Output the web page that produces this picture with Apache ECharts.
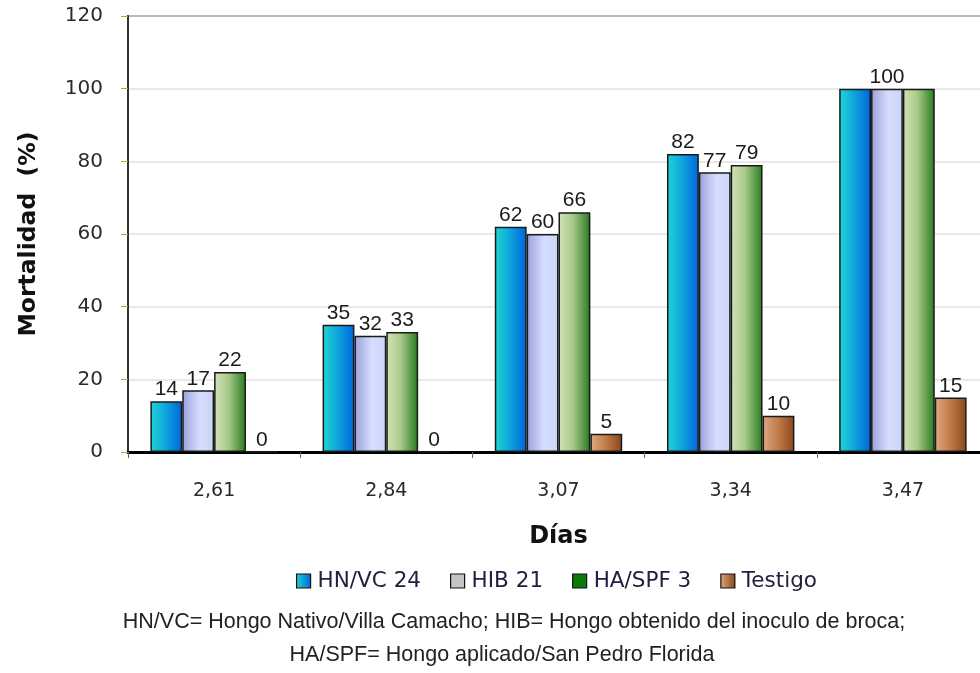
<!DOCTYPE html>
<html>
<head>
<meta charset="utf-8">
<script src="https://cdn.jsdelivr.net/npm/echarts@6/dist/echarts.min.js"></script>
<style>
  html, body { margin: 0; padding: 0; background: #ffffff; }
  #chart { width: 980px; height: 673px; }
</style>
</head>
<body>
<div id="chart"></div>
<script>
// Días de evaluación (categorías del eje X)
const dias = ['2,61', '2,84', '3,07', '3,34', '3,47'];

// Mortalidad (%) por tratamiento
const hnvc24 = [14, 35, 62, 82, 100];
const hib21 = [17, 32, 60, 77, 100];
const haspf3 = [22, 33, 66, 79, 100];
const testigo = [0, 0, 5, 10, 15];

// Índices cuyas etiquetas se omiten (las tres barras de 100 comparten una sola etiqueta)
const sinEtiquetaHN = [4];
const sinEtiquetaHA = [4];

const nombres = ['HN/VC 24', 'HIB 21', 'HA/SPF 3', 'Testigo'];

const yTicks = { min: 0, max: 120, interval: 20 };

const notas = [
  'HN/VC= Hongo Nativo/Villa Camacho; HIB= Hongo obtenido del inoculo de broca;',
  'HA/SPF= Hongo aplicado/San Pedro Florida'
];

function grad(stops) {
  return {
    type: 'linear', x: 0, y: 0, x2: 1, y2: 0,
    colorStops: stops.map(s => ({ offset: s[0], color: s[1] }))
  };
}

const relleno = [
  grad([[0, '#1ed6d2'], [0.45, '#0fa8dc'], [1, '#0064dc']]),
  grad([[0, '#9aa0da'], [0.55, '#d6defd'], [1, '#cbd4f8']]),
  grad([[0, '#d2e4b8'], [0.45, '#a9c98a'], [1, '#267a1e']]),
  grad([[0, '#dfa97f'], [0.5, '#c07a48'], [1, '#8a4519']])
];

const iconos = [
  grad([[0, '#1ed6d2'], [1, '#0064dc']]),
  '#c4c4c4',
  '#0b7a0b',
  grad([[0, '#dfa97f'], [1, '#8a4519']])
];

function datos(valores, ocultos) {
  return valores.map((v, i) =>
    ocultos.includes(i) ? { value: v, label: { show: false } } : v
  );
}

const etiqueta = {
  show: true,
  position: 'top',
  distance: 1,
  color: '#1a1a1a',
  fontFamily: 'Liberation Sans',
  fontSize: 21
};

function serie(idx, data) {
  return {
    name: nombres[idx],
    type: 'bar',
    data: data,
    barGap: '0%',
    barCategoryGap: '26%',
    itemStyle: { color: relleno[idx], borderColor: '#1a1a1a', borderWidth: 1.5 },
    label: etiqueta
  };
}

const chart = echarts.init(document.getElementById('chart'), null, { renderer: 'canvas' });

chart.setOption({
  animation: false,
  backgroundColor: '#ffffff',
  grid: {
    left: 128, top: 16, width: 861, height: 436,
    outerBoundsMode: 'none',
    show: true, borderColor: '#4a4a4a', borderWidth: 2, backgroundColor: 'transparent'
  },
  legend: {
    left: 291, top: 565,
    icon: 'rect', itemWidth: 14, itemHeight: 14, itemGap: 29,
    textStyle: { color: '#202040', fontFamily: 'DejaVu Sans', fontSize: 21.5, padding: [0, 0, 0, 2] },
    data: nombres.map((n, i) => ({
      name: n,
      itemStyle: { color: iconos[i], borderColor: '#111', borderWidth: 1.2 }
    }))
  },
  xAxis: {
    type: 'category',
    data: dias,
    name: 'Días',
    nameLocation: 'middle',
    nameGap: 73,
    nameTextStyle: { color: '#111', fontFamily: 'DejaVu Sans', fontWeight: 'bold', fontSize: 24 },
    axisLine: { show: true, lineStyle: { color: '#000', width: 3 } },
    axisTick: { show: true, alignWithLabel: false, length: 6, lineStyle: { color: '#666' } },
    axisLabel: { margin: 30, color: '#2a2a2a', fontFamily: 'DejaVu Sans', fontSize: 19 },
    splitLine: { show: false }
  },
  yAxis: {
    type: 'value',
    min: yTicks.min, max: yTicks.max, interval: yTicks.interval,
    name: 'Mortalidad  (%)',
    nameLocation: 'middle',
    nameGap: 87,
    nameTextStyle: { color: '#111', fontFamily: 'DejaVu Sans', fontWeight: 'bold', fontSize: 23.5 },
    axisLine: { show: true, lineStyle: { color: '#333', width: 2 } },
    axisTick: { show: true, inside: false, length: 7, lineStyle: { color: '#7cc04a' } },
    axisLabel: { margin: 25, color: '#2a2a2a', fontFamily: 'DejaVu Sans', fontSize: 20 },
    splitLine: { show: true, lineStyle: { color: '#e2e2e2', width: 1.5 } }
  },
  series: [
    serie(0, datos(hnvc24, sinEtiquetaHN)),
    serie(1, hib21),
    serie(2, datos(haspf3, sinEtiquetaHA)),
    serie(3, testigo)
  ],
  graphic: [
    {
      type: 'text',
      x: 514, y: 622,
      style: {
        text: notas[0], textAlign: 'center', textVerticalAlign: 'middle',
        fill: '#222', font: '21.5px "Liberation Sans"'
      }
    },
    {
      type: 'text',
      x: 502, y: 655,
      style: {
        text: notas[1], textAlign: 'center', textVerticalAlign: 'middle',
        fill: '#222', font: '21.5px "Liberation Sans"'
      }
    }
  ]
});
</script>
</body>
</html>
